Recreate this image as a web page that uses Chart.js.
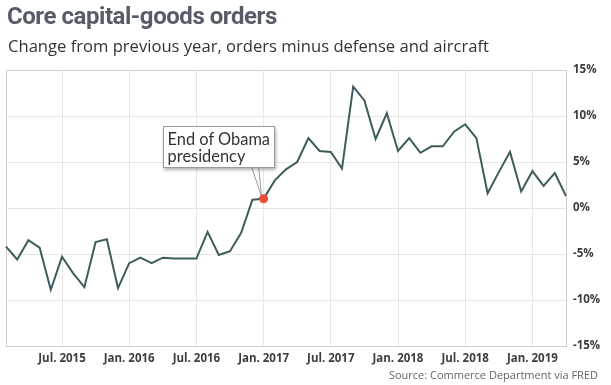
<!DOCTYPE html>
<html>
  <head>
    <title>Core capital-goods orders</title>
    <script src="https://cdn.jsdelivr.net/npm/chart.js"></script>
    <style>
      body {
        margin: 0;
        background: #fff;
      }
      .wrap {
        position: relative;
        width: 611px;
        height: 385px;
        overflow: hidden;
      }
      .title {
        position: absolute;
        left: 7px;
        top: 2px;
        margin: 0;
        font: bold 24px Roboto, sans-serif;
        letter-spacing: -0.45px;
        color: #565d69;
        white-space: nowrap;
      }
      .subtitle {
        position: absolute;
        left: 8px;
        top: 34px;
        font: 16.6px "Open Sans", sans-serif;
        color: #333;
        white-space: nowrap;
      }
      .source {
        position: absolute;
        right: 13px;
        top: 367px;
        font: 11px "Open Sans", sans-serif;
        color: #666;
        white-space: nowrap;
      }
      .note {
        position: absolute;
        background: #fff;
        border: 1px solid #9a9a9a;
        box-shadow: 1px 2px 3px rgba(0, 0, 0, 0.3);
        font: 16.4px Lato, sans-serif;
        line-height: 17px;
        color: #333;
        padding: 3px 4px 3px 4px;
        white-space: nowrap;
      }
      canvas {
        position: absolute;
        left: 0;
        top: 0;
      }
    </style>
  </head>
  <body>
    <div class="wrap">
      <canvas id="chart" width="611" height="385"></canvas>
      <h1 class="title">Core capital-goods orders</h1>
      <div class="subtitle">Change from previous year, orders minus defense and aircraft</div>
      <div class="source">Source: Commerce Department via FRED</div>
      <div class="note" id="note">End of Obama<br />presidency</div>
    </div>

    <script>
      // monthly, Feb. 2015 - Apr. 2019
      let months = [
        "2015-02", "2015-03", "2015-04", "2015-05", "2015-06", "2015-07", "2015-08", "2015-09", "2015-10", "2015-11", "2015-12",
        "2016-01", "2016-02", "2016-03", "2016-04", "2016-05", "2016-06", "2016-07", "2016-08", "2016-09", "2016-10", "2016-11", "2016-12",
        "2017-01", "2017-02", "2017-03", "2017-04", "2017-05", "2017-06", "2017-07", "2017-08", "2017-09", "2017-10", "2017-11", "2017-12",
        "2018-01", "2018-02", "2018-03", "2018-04", "2018-05", "2018-06", "2018-07", "2018-08", "2018-09", "2018-10", "2018-11", "2018-12",
        "2019-01", "2019-02", "2019-03", "2019-04",
      ];
      let orders = [
        -4.2, -5.6, -3.5, -4.3, -8.9, -5.3, -7.1, -8.6, -3.7, -3.4, -8.7,
        -6.0, -5.4, -6.0, -5.4, -5.5, -5.5, -5.5, -2.6, -5.1, -4.7, -2.7, 0.9,
        1.0, 3.0, 4.2, 5.0, 7.6, 6.2, 6.1, 4.3, 13.2, 11.7, 7.5, 10.3,
        6.2, 7.6, 6.0, 6.7, 6.7, 8.3, 9.1, 7.6, 1.6, 3.9, 6.1, 1.8,
        4.0, 2.4, 3.8, 1.3,
      ];
      let xTickLabels = {
        "2015-07": "Jul. 2015",
        "2016-01": "Jan. 2016",
        "2016-07": "Jul. 2016",
        "2017-01": "Jan. 2017",
        "2017-07": "Jul. 2017",
        "2018-01": "Jan. 2018",
        "2018-07": "Jul. 2018",
        "2019-01": "Jan. 2019",
      };
      let yTicks = [-15, -10, -5, 0, 5, 10, 15];
      let noteMonth = "2017-01";
      let noteIndex = months.indexOf(noteMonth);

      let gridColor = "#e7e7e7";
      let tickFont = { family: "'Open Sans'", size: 11.5, weight: "bold" };

      // frame round the plot + callout tail, and place the html note box
      let framePlugin = {
        id: "frame",
        beforeDatasetsDraw(chart) {
          let a = chart.chartArea;
          let c = chart.ctx;
          c.save();
          c.strokeStyle = "#cfcfcf";
          c.lineWidth = 1;
          c.strokeRect(a.left + 0.5, a.top + 0.5, a.right - a.left, a.bottom - a.top);
          c.restore();
        },
        afterDraw(chart) {
          let pt = chart.getDatasetMeta(0).data[noteIndex];
          let note = document.getElementById("note");
          let boxLeft = pt.x - 101;
          let boxTop = pt.y - 73;
          let boxBottom = pt.y - 31;
          note.style.left = boxLeft + "px";
          note.style.top = boxTop + "px";
          let c = chart.ctx;
          c.save();
          c.fillStyle = "#fff";
          c.strokeStyle = "#9a9a9a";
          c.lineWidth = 1;
          c.beginPath();
          c.moveTo(pt.x - 12, boxBottom - 1);
          c.lineTo(pt.x - 2, pt.y - 2);
          c.lineTo(pt.x - 5, boxBottom - 1);
          c.closePath();
          c.fill();
          c.stroke();
          c.fillStyle = "#ee4e36";
          c.beginPath();
          c.arc(pt.x, pt.y, 4.5, 0, Math.PI * 2);
          c.fill();
          c.restore();
        },
      };

      let ctx = document.getElementById("chart").getContext("2d");
      let chart = new Chart(ctx, {
        type: "line",
        data: {
          labels: months,
          datasets: [
            {
              label: "Core capital-goods orders",
              data: orders,
              borderColor: "#3f5c5c",
              borderWidth: 2,
              pointRadius: 0,
              tension: 0,
            },
          ],
        },
        options: {
          responsive: false,
          animation: false,
          layout: { padding: { top: 70, left: 6, right: 0, bottom: 0 } },
          plugins: {
            legend: { display: false },
            tooltip: { enabled: false },
          },
          scales: {
            x: {
              afterFit: (s) => {
                s.height = 39;
              },
              grid: {
                drawTicks: false,
                color: (c) => (c.tick && xTickLabels[months[c.tick.value]] ? gridColor : "transparent"),
              },
              border: { display: false },
              ticks: {
                autoSkip: false,
                maxRotation: 0,
                padding: 6,
                color: "#3d3d3d",
                font: tickFont,
                callback: (v, i) => xTickLabels[months[i]] || "",
              },
            },
            y: {
              position: "right",
              min: -15,
              max: 15,
              afterFit: (s) => {
                s.width = 45;
              },
              afterBuildTicks: (s) => {
                s.ticks = yTicks.map((v) => ({ value: v }));
              },
              grid: { drawTicks: false, color: gridColor },
              border: { display: false },
              ticks: {
                padding: 7,
                color: "#3d3d3d",
                font: tickFont,
                callback: (v) => v + "%",
              },
            },
          },
        },
        plugins: [framePlugin],
      });
    </script>
  </body>
</html>
